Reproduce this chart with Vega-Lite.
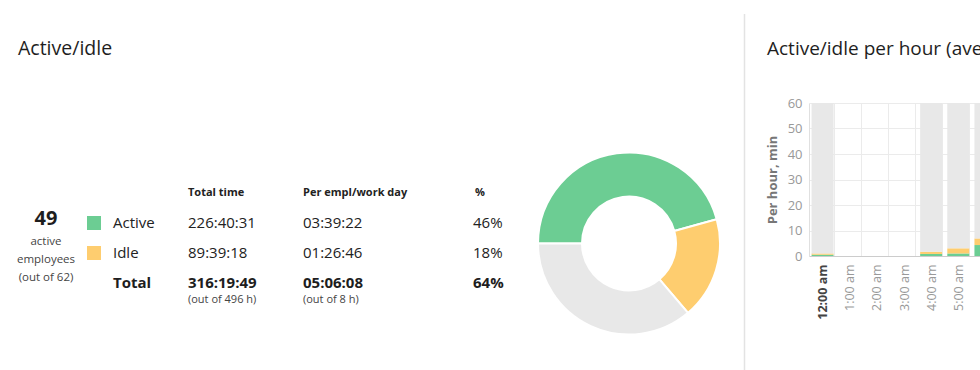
{
  "$schema": "https://vega.github.io/schema/vega-lite/v6.json",
  "background": "white",
  "padding": {"left": 0, "top": 13, "right": 0, "bottom": 0},
  "autosize": {"type": "pad"},
  "bounds": "flush",
  "spacing": 0,
  "config": {
    "view": {"stroke": null},
    "font": "Open Sans",
    "title": {"font": "Open Sans"},
    "axis": {"labelFont": "Open Sans", "titleFont": "Open Sans"}
  },
  "hconcat": [
    {
      "width": 514,
      "height": 268,
      "title": {"text": "Active/idle", "anchor": "start", "frame": "group", "dx": 18, "offset": 29, "baseline": "alphabetic", "fontSize": 19.5, "fontWeight": "normal", "color": "#1e1e1e"},
      "data": {"values": [
        {"col": "count", "row": "active", "text": "49"},
        {"col": "count", "row": "idle", "text": "active\nemployees\n(out of 62)"},
        {"col": "swatch", "row": "active", "series": "Active"},
        {"col": "swatch", "row": "idle", "series": "Idle"},
        {"col": "label", "row": "active", "text": "Active"},
        {"col": "label", "row": "idle", "text": "Idle"},
        {"col": "label", "row": "total", "text": "Total"},
        {"col": "total", "row": "header", "text": "Total time"},
        {"col": "total", "row": "active", "text": "226:40:31"},
        {"col": "total", "row": "idle", "text": "89:39:18"},
        {"col": "total", "row": "total", "text": "316:19:49"},
        {"col": "total", "row": "sub", "text": "(out of 496 h)"},
        {"col": "perday", "row": "header", "text": "Per empl/work day"},
        {"col": "perday", "row": "active", "text": "03:39:22"},
        {"col": "perday", "row": "idle", "text": "01:26:46"},
        {"col": "perday", "row": "total", "text": "05:06:08"},
        {"col": "perday", "row": "sub", "text": "(out of 8 h)"},
        {"col": "pct", "row": "header", "text": "%"},
        {"col": "pct", "row": "active", "text": "46%"},
        {"col": "pct", "row": "idle", "text": "18%"},
        {"col": "pct", "row": "total", "text": "64%"}
      ]},
      "encoding": {
        "y": {"field": "row", "type": "nominal", "scale": {"domain": ["header", "active", "idle", "total", "sub"], "range": [90, 210], "padding": 0}, "axis": null}
      },
      "resolve": {"scale": {"x": "independent"}},
      "layer": [
        {
          "transform": [{"filter": "datum.col === 'count'"}],
          "encoding": {
            "x": {"field": "col", "type": "nominal", "scale": {"domain": ["count"], "range": [46, 46], "padding": 0}, "axis": null},
            "text": {"field": "text"}
          },
          "layer": [
            {"transform": [{"filter": "datum.row === 'active'"}], "mark": {"type": "text", "align": "center", "baseline": "middle", "fontSize": 20, "fontWeight": "bold", "color": "#1e1e1e", "dy": -4}},
            {"transform": [{"filter": "datum.row === 'idle'"}], "mark": {"type": "text", "align": "center", "baseline": "middle", "fontSize": 11.5, "lineBreak": "\n", "lineHeight": 18, "color": "#444", "dy": -11}}
          ]
        },
        {
          "transform": [{"filter": "datum.col === 'swatch'"}],
          "mark": {"type": "point", "shape": "square", "filled": true, "size": 196, "opacity": 1},
          "encoding": {
            "x": {"field": "col", "type": "nominal", "scale": {"domain": ["swatch"], "range": [94, 94], "padding": 0}, "axis": null},
            "color": {"field": "series", "type": "nominal", "scale": {"domain": ["Active", "Idle", "Offline"], "range": ["#6ccd93", "#fecd6f", "#e8e8e8"]}, "legend": null}
          }
        },
        {
          "transform": [{"filter": "datum.col === 'label'"}],
          "encoding": {
            "x": {"field": "col", "type": "nominal", "scale": {"domain": ["label"], "range": [113, 113], "padding": 0}, "axis": null},
            "text": {"field": "text"}
          },
          "layer": [
            {"transform": [{"filter": "datum.row === 'active' || datum.row === 'idle'"}], "mark": {"type": "text", "align": "left", "baseline": "middle", "fontSize": 15, "color": "#222"}},
            {"transform": [{"filter": "datum.row === 'total'"}], "mark": {"type": "text", "align": "left", "baseline": "middle", "fontSize": 15, "fontWeight": "bold", "color": "#1e1e1e"}}
          ]
        },
        {
          "transform": [{"filter": "datum.col === 'total'"}],
          "encoding": {
            "x": {"field": "col", "type": "nominal", "scale": {"domain": ["total"], "range": [188, 188], "padding": 0}, "axis": null},
            "text": {"field": "text"}
          },
          "layer": [
            {"transform": [{"filter": "datum.row === 'header'"}], "mark": {"type": "text", "align": "left", "baseline": "middle", "fontSize": 11, "fontWeight": "bold", "color": "#222"}},
            {"transform": [{"filter": "datum.row === 'active' || datum.row === 'idle'"}], "mark": {"type": "text", "align": "left", "baseline": "middle", "fontSize": 15, "color": "#222"}},
            {"transform": [{"filter": "datum.row === 'total'"}], "mark": {"type": "text", "align": "left", "baseline": "middle", "fontSize": 15, "fontWeight": "bold", "color": "#1e1e1e"}},
            {"transform": [{"filter": "datum.row === 'sub'"}], "mark": {"type": "text", "align": "left", "baseline": "middle", "fontSize": 11, "color": "#444", "dy": -13}}
          ]
        },
        {
          "transform": [{"filter": "datum.col === 'perday'"}],
          "encoding": {
            "x": {"field": "col", "type": "nominal", "scale": {"domain": ["perday"], "range": [303, 303], "padding": 0}, "axis": null},
            "text": {"field": "text"}
          },
          "layer": [
            {"transform": [{"filter": "datum.row === 'header'"}], "mark": {"type": "text", "align": "left", "baseline": "middle", "fontSize": 11, "fontWeight": "bold", "color": "#222"}},
            {"transform": [{"filter": "datum.row === 'active' || datum.row === 'idle'"}], "mark": {"type": "text", "align": "left", "baseline": "middle", "fontSize": 15, "color": "#222"}},
            {"transform": [{"filter": "datum.row === 'total'"}], "mark": {"type": "text", "align": "left", "baseline": "middle", "fontSize": 15, "fontWeight": "bold", "color": "#1e1e1e"}},
            {"transform": [{"filter": "datum.row === 'sub'"}], "mark": {"type": "text", "align": "left", "baseline": "middle", "fontSize": 11, "color": "#444", "dy": -13}}
          ]
        },
        {
          "transform": [{"filter": "datum.col === 'pct'"}],
          "encoding": {
            "x": {"field": "col", "type": "nominal", "scale": {"domain": ["pct"], "range": [473, 473], "padding": 0}, "axis": null},
            "text": {"field": "text"}
          },
          "layer": [
            {"transform": [{"filter": "datum.row === 'header'"}], "mark": {"type": "text", "align": "left", "baseline": "middle", "fontSize": 11, "fontWeight": "bold", "color": "#222", "dx": 2}},
            {"transform": [{"filter": "datum.row === 'active' || datum.row === 'idle'"}], "mark": {"type": "text", "align": "left", "baseline": "middle", "fontSize": 15, "color": "#222"}},
            {"transform": [{"filter": "datum.row === 'total'"}], "mark": {"type": "text", "align": "left", "baseline": "middle", "fontSize": 15, "fontWeight": "bold", "color": "#1e1e1e"}}
          ]
        }
      ]
    },
    {
      "width": 230,
      "height": 281,
      "data": {"values": [
        {"series": "Active", "hours": 226.68},
        {"series": "Idle", "hours": 89.66},
        {"series": "Offline", "hours": 179.67}
      ]},
      "mark": {"type": "arc", "innerRadius": 47, "outerRadius": 91, "stroke": "white", "strokeWidth": 2},
      "encoding": {
        "theta": {"field": "hours", "type": "quantitative", "stack": true, "scale": {"range": [4.71238898, 10.99557429]}},
        "color": {"field": "series", "type": "nominal", "scale": {"domain": ["Active", "Idle", "Offline"], "range": ["#6ccd93", "#fecd6f", "#e8e8e8"]}, "legend": null},
        "order": {"field": "series", "sort": "ascending"}
      }
    },
    {
      "width": 65,
      "height": 268,
      "data": {"values": [{}]},
      "mark": {"type": "rule", "color": "#e3e3e3", "strokeWidth": 1.5},
      "encoding": {"x": {"value": 0.5}, "y": {"value": -89}, "y2": {"value": 268}}
    },
    {
      "width": 190,
      "height": 153,
      "title": {"text": "Active/idle per hour (average)", "anchor": "start", "frame": "group", "dx": -42, "offset": 23.5, "baseline": "alphabetic", "fontSize": 19, "fontWeight": "normal", "color": "#1e1e1e"},
      "data": {"values": [
        {"hour": "12:00 am", "series": "Active", "minutes": 0.5},
        {"hour": "12:00 am", "series": "Idle", "minutes": 0.5},
        {"hour": "12:00 am", "series": "Offline", "minutes": 59.0},
        {"hour": "4:00 am", "series": "Active", "minutes": 0.8},
        {"hour": "4:00 am", "series": "Idle", "minutes": 0.9},
        {"hour": "4:00 am", "series": "Offline", "minutes": 58.3},
        {"hour": "5:00 am", "series": "Active", "minutes": 1.0},
        {"hour": "5:00 am", "series": "Idle", "minutes": 2.0},
        {"hour": "5:00 am", "series": "Offline", "minutes": 57.0},
        {"hour": "6:00 am", "series": "Active", "minutes": 4.3},
        {"hour": "6:00 am", "series": "Idle", "minutes": 2.6},
        {"hour": "6:00 am", "series": "Offline", "minutes": 53.1}
      ]},
      "mark": {"type": "bar"},
      "encoding": {
        "x": {
          "field": "hour", "type": "nominal", "sort": null,
          "scale": {"domain": ["12:00 am", "1:00 am", "2:00 am", "3:00 am", "4:00 am", "5:00 am", "6:00 am"], "paddingInner": 0.19, "paddingOuter": 0.095},
          "axis": {
            "title": null, "labelAngle": -90, "labelFontSize": 12.5, "labelPadding": 8, "ticks": false,
            "labelColor": {"condition": {"test": "datum.value === '12:00 am'", "value": "#444"}, "value": "#999"},
            "labelFontWeight": {"condition": {"test": "datum.value === '12:00 am'", "value": "bold"}, "value": "normal"},
            "domainColor": "#cccccc", "grid": true, "gridColor": "#ebebeb", "tickBand": "extent"
          }
        },
        "y": {
          "field": "minutes", "type": "quantitative", "stack": "zero",
          "scale": {"domain": [0, 60]},
          "axis": {
            "title": "Per hour, min", "titleFontSize": 13, "titleFontWeight": "bold", "titleColor": "#777", "titlePadding": 8,
            "labelFontSize": 13, "labelColor": "#999", "labelPadding": 7, "ticks": false,
            "values": [0, 10, 20, 30, 40, 50, 60], "gridColor": "#ebebeb", "domain": true, "domainColor": "#e0e0e0"
          }
        },
        "color": {"field": "series", "type": "nominal", "scale": {"domain": ["Active", "Idle", "Offline"], "range": ["#6ccd93", "#fecd6f", "#e8e8e8"]}, "legend": null},
        "order": {"field": "series", "sort": "ascending"}
      }
    }
  ]
}
